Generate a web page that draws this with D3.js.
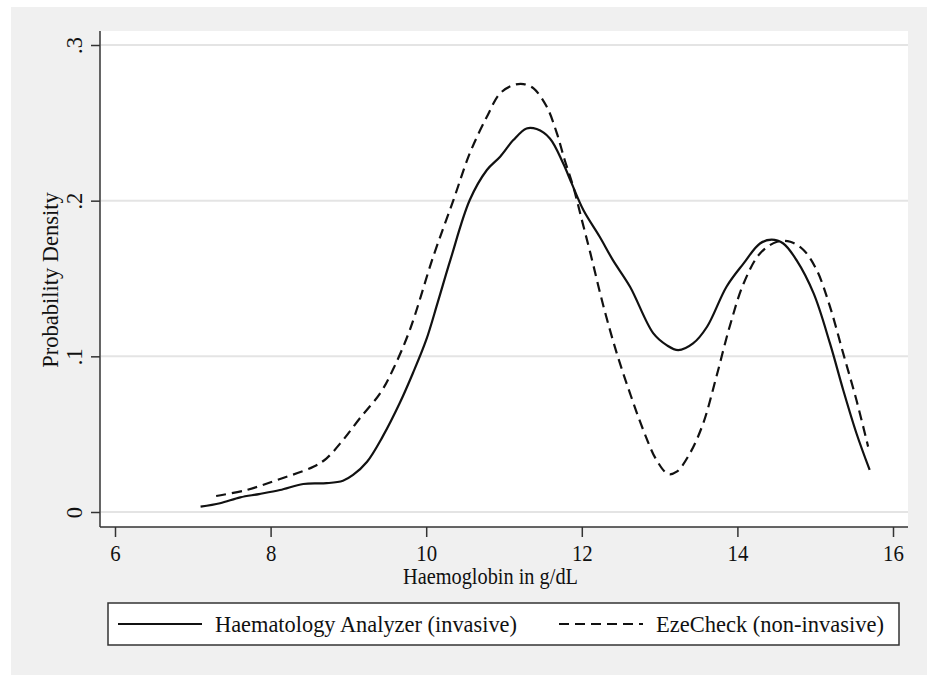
<!DOCTYPE html>
<html>
<head>
<meta charset="utf-8">
<script src="https://cdn.jsdelivr.net/npm/d3@7"></script>
<style>
  html, body { margin: 0; padding: 0; background: #ffffff; }
  svg { display: block; }
  text { font-family: "Liberation Serif", "DejaVu Serif", serif; fill: #111; }
</style>
</head>
<body>
<svg id="chart" width="927" height="675"></svg>
<script>
// ---- Data ----
const invasiveX = [7.10,7.35,7.61,7.85,8.12,8.42,8.72,8.93,9.06,9.24,9.44,9.66,9.83,10.00,10.15,10.31,10.56,10.78,10.95,11.12,11.29,11.42,11.59,11.76,11.87,12.02,12.23,12.40,12.62,12.92,13.09,13.24,13.43,13.61,13.86,14.08,14.29,14.44,14.59,14.76,14.98,15.19,15.36,15.53,15.70];
const invasiveY = [0.0034,0.0056,0.0094,0.0115,0.0141,0.0180,0.0185,0.0201,0.0238,0.0323,0.0484,0.0700,0.0893,0.1105,0.1350,0.1618,0.2004,0.2197,0.2282,0.2389,0.2464,0.2460,0.2400,0.2240,0.2111,0.1940,0.1768,0.1618,0.1447,0.1147,0.1072,0.1040,0.1083,0.1190,0.1447,0.1597,0.1725,0.1750,0.1725,0.1618,0.1404,0.1083,0.0784,0.0506,0.0270];

const ezeX = [7.30,7.69,8.08,8.55,8.72,8.93,9.15,9.41,9.57,9.79,10.09,10.35,10.56,10.78,10.95,11.12,11.25,11.38,11.55,11.68,11.78,11.89,12.00,12.11,12.28,12.45,12.62,12.79,12.96,13.11,13.22,13.39,13.56,13.73,13.90,14.08,14.29,14.51,14.68,14.85,15.02,15.19,15.36,15.53,15.68];
const ezeY = [0.0103,0.0141,0.0205,0.0291,0.0345,0.0462,0.0604,0.0764,0.0912,0.1170,0.1640,0.2004,0.2304,0.2539,0.2689,0.2742,0.2749,0.2721,0.2603,0.2432,0.2261,0.2090,0.1877,0.1663,0.1319,0.1019,0.0762,0.0527,0.0334,0.0244,0.0259,0.0377,0.0569,0.0869,0.1190,0.1468,0.1661,0.1736,0.1736,0.1683,0.1554,0.1319,0.1019,0.0719,0.0420];

const xTicks = [6, 8, 10, 12, 14, 16];
const yTicks = [0, 0.1, 0.2, 0.3];
const yTickLabels = ["0", ".1", ".2", ".3"];
const seriesNames = ["Haematology Analyzer (invasive)", "EzeCheck (non-invasive)"];
const xTitle = "Haemoglobin in g/dL";
const yTitle = "Probability Density";

// ---- Layout ----
const svg = d3.select("#chart");
const plotL = 100, plotR = 908, plotT = 31, plotB = 527;

// outer gray background
svg.append("rect").attr("x", 11).attr("y", 7).attr("width", 927 - 11).attr("height", 675 - 7)
  .attr("fill", "#f0f0f0");
// plot area
svg.append("rect").attr("x", plotL).attr("y", plotT).attr("width", plotR - plotL).attr("height", plotB - plotT)
  .attr("fill", "#ffffff");

const x = d3.scaleLinear().domain([6, 16]).range([115, 893]);
const y = d3.scaleLinear().domain([0, 0.3]).range([512, 45]);

// gridlines
svg.append("g").selectAll("line").data(yTicks).join("line")
  .attr("x1", plotL + 1).attr("x2", plotR)
  .attr("y1", d => y(d)).attr("y2", d => y(d))
  .attr("stroke", "#e4e4e4").attr("stroke-width", 2);

// Y axis
const yAxis = d3.axisLeft(y).tickValues(yTicks).tickSize(9).tickFormat("");
const gy = svg.append("g").attr("transform", `translate(${plotL},0)`).call(yAxis);
gy.select(".domain").attr("d", `M0,${plotT}V${plotB}`);
gy.selectAll("line, path").attr("stroke", "#333").attr("stroke-width", 1.5);
gy.selectAll(".tick").append("text")
  .attr("transform", "translate(-18.5,0) rotate(-90)")
  .attr("text-anchor", "middle")
  .attr("font-size", 22.5)
  .attr("fill", "#111")
  .text((d, i) => yTickLabels[i]);

// X axis
const xAxis = d3.axisBottom(x).tickValues(xTicks).tickSize(10).tickFormat("");
const gx = svg.append("g").attr("transform", `translate(0,${plotB})`).call(xAxis);
gx.select(".domain").attr("d", `M${plotL},0H${plotR}`);
gx.selectAll("line, path").attr("stroke", "#333").attr("stroke-width", 1.5);
gx.selectAll(".tick").append("text")
  .attr("y", 34)
  .attr("text-anchor", "middle")
  .attr("font-size", 22.5)
  .attr("fill", "#111")
  .attr("textLength", d => String(d).length * 10.4)
  .attr("lengthAdjust", "spacingAndGlyphs")
  .text(d => d);

// Axis titles
svg.append("text")
  .attr("x", 490.5).attr("y", 584)
  .attr("text-anchor", "middle").attr("font-size", 22.5)
  .attr("textLength", 175).attr("lengthAdjust", "spacingAndGlyphs")
  .text(xTitle);
svg.append("text")
  .attr("transform", "translate(58,280) rotate(-90)")
  .attr("text-anchor", "middle").attr("font-size", 22.5)
  .text(yTitle);

// Curves
const line = d3.line()
  .x(d => x(d[0])).y(d => y(d[1]))
  .curve(d3.curveCatmullRom.alpha(0.5));

const invData = invasiveX.map((v, i) => [v, invasiveY[i]]);
const ezeData = ezeX.map((v, i) => [v, ezeY[i]]);

svg.append("path").datum(invData).attr("d", line)
  .attr("fill", "none").attr("stroke", "#111").attr("stroke-width", 2.2)
  .attr("stroke-linejoin", "round");
svg.append("path").datum(ezeData).attr("d", line)
  .attr("fill", "none").attr("stroke", "#111").attr("stroke-width", 2.2)
  .attr("stroke-dasharray", "10,6");

// Legend
svg.append("rect").attr("x", 108).attr("y", 603).attr("width", 899 - 108).attr("height", 42)
  .attr("fill", "#ffffff").attr("stroke", "#333").attr("stroke-width", 1.5);
svg.append("line").attr("x1", 118).attr("x2", 202).attr("y1", 624).attr("y2", 624)
  .attr("stroke", "#111").attr("stroke-width", 2.2);
svg.append("text").attr("x", 215).attr("y", 632).attr("font-size", 22.5)
  .attr("textLength", 302).attr("lengthAdjust", "spacingAndGlyphs")
  .text(seriesNames[0]);
svg.append("line").attr("x1", 559).attr("x2", 643).attr("y1", 624).attr("y2", 624)
  .attr("stroke", "#111").attr("stroke-width", 2.2).attr("stroke-dasharray", "10,6");
svg.append("text").attr("x", 656).attr("y", 632).attr("font-size", 22.5)
  .attr("textLength", 228).attr("lengthAdjust", "spacingAndGlyphs")
  .text(seriesNames[1]);
</script>
</body>
</html>
